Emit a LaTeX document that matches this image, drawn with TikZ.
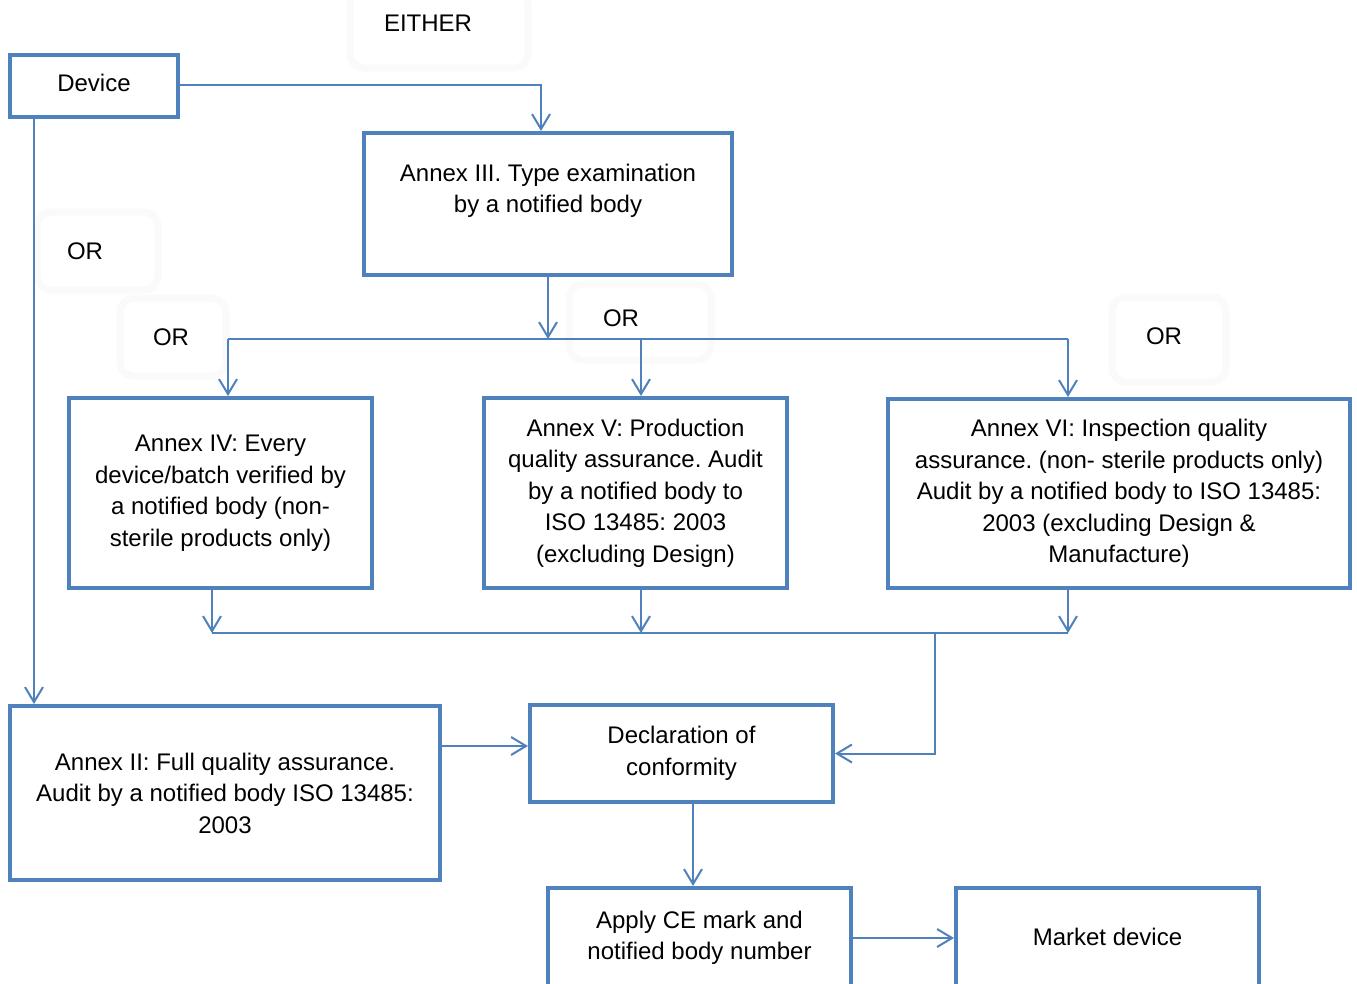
\documentclass[tikz,border=0pt]{standalone}
\usepackage{fontspec}
\setmainfont{Liberation Sans}
\usetikzlibrary{arrows.meta}
\definecolor{bl}{RGB}{79,129,189}
\definecolor{faint}{RGB}{250,250,250}
\newcommand{\fs}{\fontsize{24}{31.5}\selectfont\frenchspacing}
\tikzset{
  box/.style={draw=bl, line width=4pt, align=center, font=\fs, inner sep=0pt, fill=white},
  conn/.style={draw=bl, line width=2pt},
  arr/.style={conn, -{Straight Barb[length=15pt, width=18pt, line width=2pt]}},
  lab/.style={font=\fs, inner sep=0pt},
  ghost/.style={draw=faint, line width=7pt, rounded corners=14pt},
}
\begin{document}
\begin{tikzpicture}[x=1pt,y=-1pt]
\clip (0,0) rectangle (1357,983);
\fill[white] (0,0) rectangle (1357,983);
% faint label frames
\draw[ghost] (350,-10) rectangle (528,68);
\draw[ghost] (37,212) rectangle (158,290);
\draw[ghost] (120,298) rectangle (226,376);
\draw[ghost] (569,284) rectangle (711,360);
\draw[ghost] (1112,297) rectangle (1226,382);
% labels
\node[lab] (either) at (428,23) {EITHER};
\node[lab] (or1) at (85,251) {OR};
\node[lab] (or2) at (171,337) {OR};
\node[lab] (or3) at (621,318) {OR};
\node[lab] (or4) at (1164,336) {OR};
% boxes
\node[box, minimum width=168pt, minimum height=62pt] (dev) at (94,86) {\raisebox{6pt}{Device}};
\node[box, minimum width=368pt, minimum height=142pt] (a3) at (548,204) {Annex III. Type examination\\by a notified body\\~};
\node[box, minimum width=303pt, minimum height=190pt] (a4) at (220.5,493) {Annex IV: Every\\device/batch verified by\\a notified body (non-\\sterile products only)};
\node[box, minimum width=303pt, minimum height=190pt] (a5) at (635.5,493) {Annex V: Production\\quality assurance. Audit\\by a notified body to\\ISO 13485: 2003\\(excluding Design)};
\node[box, minimum width=462pt, minimum height=189pt] (a6) at (1119,493.5) {Annex VI: Inspection quality\\assurance. (non- sterile products only)\\Audit by a notified body to ISO 13485:\\2003 (excluding Design \&\\Manufacture)};
\node[box, minimum width=430pt, minimum height=174pt] (a2) at (225,793) {Annex II: Full quality assurance.\\Audit by a notified body ISO 13485:\\2003};
\node[box, minimum width=303pt, minimum height=97pt] (doc) at (681.5,753.5) {Declaration of\\conformity};
\node[box, minimum width=303pt, minimum height=100pt] (ce) at (699.5,938) {Apply CE mark and\\notified body number};
\node[box, minimum width=303pt, minimum height=100pt] (mkt) at (1107.5,938) {\raisebox{2pt}{Market device}};
% junction coordinates
\coordinate (s1) at (548,339);
\coordinate (m1) at (212,633);
\coordinate (m2) at (1068,633);
\coordinate (mj) at (935,633);
% connectors
\draw[arr] (dev.east |- 0,85) -| (541,0 |- a3.north);
\draw[arr] (34,0 |- dev.south) -- (34,0 |- a2.north);
\draw[arr] (a3.south -| s1) -- (s1);
\draw[conn] (228,339) -- (1068,339);
\draw[arr] (228,339) -- (228,0 |- a4.north);
\draw[arr] (641,339) -- (641,0 |- a5.north);
\draw[arr] (1068,339) -- (1068,0 |- a6.north);
\draw[arr] (212,0 |- a4.south) -- (m1);
\draw[arr] (641,0 |- a5.south) -- (641,633);
\draw[arr] (1068,0 |- a6.south) -- (m2);
\draw[conn] (m1) -- (m2);
\draw[arr] (mj) |- (doc.east);
\draw[arr] (a2.east |- 0,746) -- (doc.west |- 0,746);
\draw[arr] (693,0 |- doc.south) -- (693,0 |- ce.north);
\draw[arr] (ce.east) -- (mkt.west);
\end{tikzpicture}
\end{document}
